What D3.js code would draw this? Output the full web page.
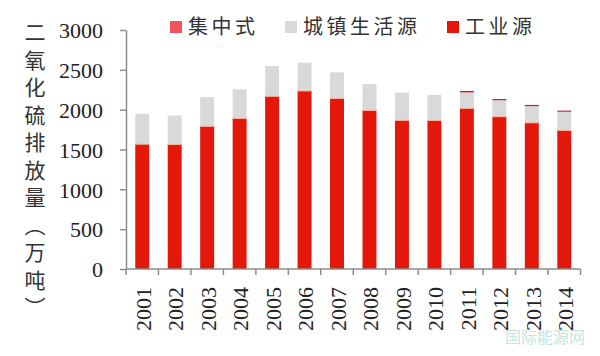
<!DOCTYPE html>
<html><head><meta charset="utf-8">
<script src="https://cdn.jsdelivr.net/npm/d3@7"></script>
<style>body{margin:0;background:#fff}svg{display:block}</style>
</head><body><svg id="c" width="600" height="356"></svg>
<script>
const years = ["2001","2002","2003","2004","2005","2006","2007","2008","2009","2010","2011","2012","2013","2014"];
const industrial = [1567,1562,1791,1891,2168,2235,2140,1991,1866,1864,2017,1912,1835,1740];
const domestic = [381,365,367,364,381,354,328,330,348,321,200,206,209,234];
const centralized = [0,0,0,0,0,0,0,0,0,0,18,16,16,14];
const yTicks = [0,500,1000,1500,2000,2500,3000];
const seriesNames = ["集中式","城镇生活源","工业源"];
const colors = {"工业源":"#e3170a","城镇生活源":"#d9d9d9","集中式":"#c8202a"};
const legendColors = {"集中式":"#f0545c","城镇生活源":"#d9d9d9","工业源":"#e3170a"};
const yTitle = "二氧化硫排放量（万吨）";

const svg = d3.select("#c");
const x = d3.scaleBand().domain(years).range([126,580.5]).paddingInner(0.57).paddingOuter(0.285);
const xb = d3.scaleBand().domain(years).range([126,580.5]);
const y = d3.scaleLinear().domain([0,3000]).range([269,30]);

const rows = years.map((yr,i)=>({year:yr,"工业源":industrial[i],"城镇生活源":domestic[i],"集中式":centralized[i]}));
const stack = d3.stack().keys(["工业源","城镇生活源","集中式"])(rows);

const g = svg.append("g");
stack.forEach(layer=>{
  g.selectAll(null).data(layer).enter().append("rect")
    .attr("x",d=>x(d.data.year))
    .attr("width",x.bandwidth())
    .attr("y",d=>y(d[1]))
    .attr("height",d=>Math.max(0,y(d[0])-y(d[1])))
    .attr("fill",colors[layer.key]);
});
g.selectAll(null).data(stack[0]).enter().append("rect")
  .attr("x",d=>x(d.data.year)).attr("width",x.bandwidth())
  .attr("y",d=>y(d[1])-0.5).attr("height",1).attr("fill","#f6b39a");

// Y axis
const yAxis = d3.axisLeft(y).tickValues(yTicks).tickFormat(d3.format("d")).tickSize(6).tickPadding(17).tickSizeOuter(0);
const ya = svg.append("g").attr("transform","translate(126,0)").call(yAxis);
ya.select(".domain").attr("stroke","#8c8c8c").attr("stroke-width",1.5);
ya.selectAll(".tick line").attr("stroke","#8c8c8c").attr("stroke-width",1.5);
ya.selectAll("text").attr("font-family","'Liberation Serif',serif").attr("font-size",22).attr("fill","#222").attr("dy","0.35em");

// X axis
const xa = svg.append("g").attr("transform","translate(0,269)");
xa.append("line").attr("x1",126).attr("x2",580.5).attr("y1",0).attr("y2",0).attr("stroke","#8c8c8c").attr("stroke-width",1.5);
const bounds = years.map(yr=>xb(yr)).concat([xb(years[years.length-1])+xb.bandwidth()]);
xa.selectAll(null).data(bounds).enter().append("line")
  .attr("x1",d=>d).attr("x2",d=>d).attr("y1",0).attr("y2",6).attr("stroke","#8c8c8c").attr("stroke-width",1.5);
xa.selectAll(null).data(years).enter().append("text")
  .attr("transform",d=>`translate(${xb(d)+xb.bandwidth()/2+1},18) rotate(-90)`)
  .attr("text-anchor","end").attr("dy","0.35em")
  .attr("font-family","'Liberation Serif',serif").attr("font-size",22).attr("fill","#222")
  .text(d=>d);

// Y title (vertical writing mode)
svg.append("text")
  .attr("x",35).attr("y",22)
  .style("writing-mode","vertical-rl")
  .attr("font-family","'Noto Sans CJK SC',sans-serif").attr("font-size",21).attr("letter-spacing",6.5).attr("fill","#333")
  .text(yTitle);

// Legend
const leg = [{k:"集中式",x:170},{k:"城镇生活源",x:285},{k:"工业源",x:447}];
const lg = svg.append("g");
leg.forEach(l=>{
  lg.append("rect").attr("x",l.x).attr("y",21).attr("width",12).attr("height",12).attr("fill",legendColors[l.k]);
  lg.append("text").attr("x",l.x+18).attr("y",27).attr("dy","0.35em")
    .attr("font-family","'Noto Sans CJK SC',sans-serif").attr("font-size",20).attr("letter-spacing",3.5).attr("fill","#333")
    .text(l.k);
});

svg.append("text").attr("x",505).attr("y",343).attr("font-family","'Noto Sans CJK SC',sans-serif")
  .attr("font-size",16).attr("fill","#b8e0d8").attr("opacity",0.8).text("国际能源网");
</script></body></html>
